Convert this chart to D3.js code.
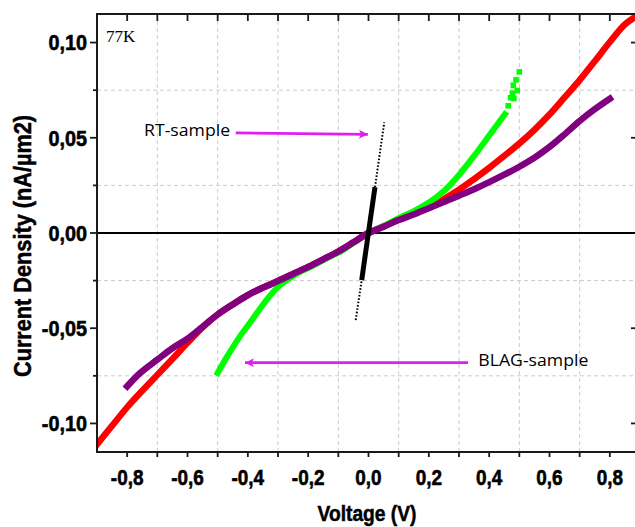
<!DOCTYPE html>
<html><head><meta charset="utf-8">
<script src="https://cdn.jsdelivr.net/npm/d3@7"></script>
<style>html,body{margin:0;padding:0;background:#fff;}svg{display:block;}</style>
</head><body>
<svg id="c" width="635" height="527"></svg>
<script>
// ---- data ----
const xTickValues = [-0.8,-0.6,-0.4,-0.2,0,0.2,0.4,0.6,0.8];
const xTickLabels = ["-0,8","-0,6","-0,4","-0,2","0,0","0,2","0,4","0,6","0,8"];
const xMinorTicks = [-0.9,-0.7,-0.5,-0.3,-0.1,0.1,0.3,0.5,0.7,0.9];
const yTickValues = [0.10,0.05,0,-0.05,-0.10];
const yTickLabels = ["0,10","0,05","0,00","-0,05","-0,10"];
const yMinorTicks = [0.075,0.025,-0.025,-0.075];

const redV = [-0.9,-0.85,-0.8,-0.75,-0.7,-0.65,-0.6,-0.55,-0.5,-0.45,-0.4,-0.35,-0.3,-0.25,-0.2,-0.15,-0.1,-0.05,0,0.05,0.1,0.15,0.2,0.25,0.3,0.35,0.4,0.45,0.5,0.55,0.6,0.65,0.7,0.75,0.8,0.85,0.885];
const redJ = [-0.111,-0.1012,-0.0915,-0.0828,-0.0745,-0.0662,-0.0577,-0.0495,-0.0428,-0.0375,-0.0326,-0.0287,-0.0252,-0.0215,-0.0178,-0.0138,-0.0097,-0.0049,0,0.0035,0.0071,0.0102,0.0137,0.0178,0.0227,0.0283,0.0342,0.0405,0.047,0.0542,0.0622,0.0712,0.0803,0.0902,0.1003,0.1095,0.1135];

const purpleV = [-0.8,-0.757,-0.7,-0.65,-0.6,-0.55,-0.5,-0.45,-0.4,-0.35,-0.3,-0.25,-0.2,-0.15,-0.1,-0.05,0,0.05,0.1,0.15,0.2,0.25,0.3,0.35,0.4,0.45,0.5,0.55,0.6,0.65,0.7,0.75,0.8];
const purpleJ = [-0.0805,-0.0735,-0.0665,-0.0605,-0.0555,-0.0492,-0.0428,-0.0375,-0.0326,-0.0287,-0.0252,-0.0215,-0.0178,-0.0138,-0.0097,-0.0049,0,0.0033,0.0068,0.0097,0.013,0.0163,0.0196,0.023,0.0267,0.0306,0.0348,0.0395,0.0452,0.0518,0.0588,0.065,0.0705];

const greenV = [-0.5,-0.47,-0.425,-0.39,-0.359,-0.33,-0.299,-0.26,-0.227,-0.19,-0.161,-0.12,-0.094,-0.05,0,0.05,0.1,0.15,0.2,0.25,0.3,0.35,0.4,0.452];
const greenJ = [-0.0735,-0.0652,-0.054,-0.0465,-0.0396,-0.0336,-0.0282,-0.0236,-0.0204,-0.0176,-0.0152,-0.0118,-0.0099,-0.0052,0,0.0037,0.0078,0.0115,0.016,0.0221,0.0305,0.0405,0.0512,0.0624];
const greenTailV = [0.463,0.471,0.482,0.477,0.493,0.48,0.489,0.5];
const greenTailJ = [0.0668,0.071,0.0706,0.0734,0.0748,0.0776,0.0804,0.0846];

const rtDenseV = [-0.0225,0,0.0215];
const rtDenseJ = [-0.0247,0.0005,0.0241];
const rtLowV = [-0.0424,-0.0225];
const rtLowJ = [-0.0457,-0.0247];
const rtHighV = [0.0215,0.0523];
const rtHighJ = [0.0241,0.0581];

// ---- chart ----
const svg = d3.select("#c");
const x = d3.scaleLinear().domain([-0.9,0.9]).range([97,640]);
const y = d3.scaleLinear().domain([-0.115,0.115]).range([452,14]);
const L = 97, R = 640, T = 14, B = 452;
const axisCol = "#1a1a1a";

function condense(sel, k){
  sel.each(function(){
    const w = this.getComputedTextLength();
    d3.select(this).attr("textLength", w*k).attr("lengthAdjust","spacingAndGlyphs");
  });
}

svg.append("defs").append("clipPath").attr("id","clip")
  .append("rect").attr("x",L).attr("y",T).attr("width",R-L).attr("height",B-T);

// grid
const grid = svg.append("g").attr("stroke","#cccccc").attr("stroke-width",1).attr("stroke-dasharray","4,3");
grid.selectAll("line.v").data(xMinorTicks.filter(d=>d>-0.9&&d<0.9)).join("line")
  .attr("x1",d=>x(d)).attr("x2",d=>x(d)).attr("y1",T).attr("y2",B);
grid.selectAll("line.h").data(yMinorTicks).join("line")
  .attr("y1",d=>y(d)).attr("y2",d=>y(d)).attr("x1",L).attr("x2",R);

// zero line
svg.append("line").attr("x1",L).attr("x2",R).attr("y1",y(0)).attr("y2",y(0))
  .attr("stroke","#000").attr("stroke-width",2);

// curves
const plot = svg.append("g").attr("clip-path","url(#clip)");
const line = d3.line().x(d=>x(d[0])).y(d=>y(d[1])).curve(d3.curveCatmullRom.alpha(0.5));
const straight = d3.line().x(d=>x(d[0])).y(d=>y(d[1]));
const zip = (a,b)=>a.map((v,i)=>[v,b[i]]);
function curve(V,J,col,w){
  plot.append("path").datum(zip(V,J)).attr("d",line).attr("fill","none")
    .attr("stroke",col).attr("stroke-width",w).attr("stroke-linejoin","round").attr("stroke-linecap","square");
}
curve(redV,redJ,"#ff0000",6.5);
curve(greenV,greenJ,"#00ff00",6);
plot.selectAll("rect.gt").data(zip(greenTailV,greenTailJ)).join("rect")
  .attr("x",d=>x(d[0])-2.8).attr("y",d=>y(d[1])-2.8).attr("width",5.6).attr("height",5.6).attr("fill","#00ff00");
curve(purpleV,purpleJ,"#800080",6.5);
// RT sample
plot.append("path").datum(zip(rtDenseV,rtDenseJ)).attr("d",straight).attr("fill","none")
  .attr("stroke","#000").attr("stroke-width",5);
[[rtLowV,rtLowJ],[rtHighV,rtHighJ]].forEach(([V,J])=>{
  plot.append("path").datum(zip(V,J)).attr("d",straight).attr("fill","none")
    .attr("stroke","#000").attr("stroke-width",2).attr("stroke-dasharray","1.6,1.8");
});

// frame
const frame = svg.append("g").attr("stroke",axisCol).attr("stroke-width",2);
frame.append("line").attr("x1",L).attr("x2",L).attr("y1",T-1).attr("y2",B+1);
frame.append("line").attr("x1",L).attr("x2",R).attr("y1",T).attr("y2",T);
frame.append("line").attr("x1",L).attr("x2",R).attr("y1",B).attr("y2",B);
frame.append("line").attr("x1",R-1).attr("x2",R-1).attr("y1",T).attr("y2",B);

const allX = xTickValues.concat(xMinorTicks).filter(d=>d>-0.9&&d<0.9);
// ticks
const tk = svg.append("g").attr("stroke",axisCol).attr("stroke-width",1.8);
tk.selectAll("line.b").data(allX).join("line")
  .attr("x1",d=>x(d)).attr("x2",d=>x(d)).attr("y1",B).attr("y2",B+5);
tk.selectAll("line.t").data(allX).join("line")
  .attr("x1",d=>x(d)).attr("x2",d=>x(d)).attr("y1",T).attr("y2",T+7);
tk.selectAll("line.l").data(yTickValues).join("line")
  .attr("x1",L-7).attr("x2",L).attr("y1",d=>y(d)).attr("y2",d=>y(d));
tk.selectAll("line.lm").data(yMinorTicks).join("line")
  .attr("x1",L-4).attr("x2",L).attr("y1",d=>y(d)).attr("y2",d=>y(d));
tk.selectAll("line.r").data(yTickValues.filter(d=>d!==0)).join("line")
  .attr("x1",R-9).attr("x2",R).attr("y1",d=>y(d)).attr("y2",d=>y(d));

// tick labels
const tf = "'Liberation Sans', Arial, sans-serif";
const xl = svg.append("g").selectAll("text").data(xTickValues).join("text")
  .attr("x",d=>x(d)).attr("y",B+33).attr("text-anchor","middle")
  .attr("font-family",tf).attr("font-weight","bold").attr("font-size",22).attr("fill","#000")
  .attr("stroke","#000").attr("stroke-width",0.6)
  .text((d,i)=>xTickLabels[i]);
condense(xl,0.86);
const yl = svg.append("g").selectAll("text").data(yTickValues).join("text")
  .attr("x",L-10).attr("y",d=>y(d)+7.8).attr("text-anchor","end")
  .attr("font-family",tf).attr("font-weight","bold").attr("font-size",22).attr("fill","#000")
  .attr("stroke","#000").attr("stroke-width",0.6)
  .text((d,i)=>yTickLabels[i]);
condense(yl,0.9);

// axis titles
svg.append("text").attr("x",367).attr("y",521).attr("text-anchor","middle")
  .attr("font-family",tf).attr("font-weight","bold").attr("font-size",22).attr("fill","#000")
  .attr("stroke","#000").attr("stroke-width",0.5)
  .attr("textLength",99).attr("lengthAdjust","spacingAndGlyphs").text("Voltage (V)");
svg.append("text").attr("transform","translate(31,246) rotate(-90)").attr("text-anchor","middle")
  .attr("font-family",tf).attr("font-weight","bold").attr("font-size",24).attr("fill","#000")
  .attr("stroke","#000").attr("stroke-width",0.5)
  .attr("textLength",262).attr("lengthAdjust","spacingAndGlyphs").text("Current Density (nA/µm2)");

// annotations
svg.append("text").attr("x",x(-0.870)).attr("y",y(0.1003))
  .attr("font-family","'Liberation Serif', 'Times New Roman', serif").attr("font-size",17).attr("fill","#000").text("77K");

const mag = "#e31cf0";
const defs = svg.select("defs");
defs.append("marker").attr("id","ah").attr("viewBox","0 0 10 10").attr("refX",10).attr("refY",5)
  .attr("markerUnits","userSpaceOnUse").attr("markerWidth",10).attr("markerHeight",9).attr("orient","auto")
  .append("path").attr("d","M0,0 L10,5 L0,10 L2.5,5 z").attr("fill",mag);

const af = "'Open Sans', 'Noto Sans', sans-serif";
svg.append("text").attr("x",x(-0.744)).attr("y",y(0.0507)).attr("font-family",af).attr("font-size",16)
  .attr("fill","#000").attr("textLength",86).attr("lengthAdjust","spacingAndGlyphs").text("RT-sample");
svg.append("line").attr("x1",x(-0.44)).attr("y1",y(0.0526)).attr("x2",x(-0.002)).attr("y2",y(0.0518))
  .attr("stroke",mag).attr("stroke-width",2.8).attr("marker-end","url(#ah)");
svg.append("text").attr("x",x(0.364)).attr("y",y(-0.0701)).attr("font-family",af).attr("font-size",16)
  .attr("fill","#000").attr("textLength",110).attr("lengthAdjust","spacingAndGlyphs").text("BLAG-sample");
svg.append("line").attr("x1",x(0.33)).attr("y1",y(-0.0681)).attr("x2",x(-0.4094)).attr("y2",y(-0.0681))
  .attr("stroke",mag).attr("stroke-width",2.8).attr("marker-end","url(#ah)");
</script>
</body></html>
